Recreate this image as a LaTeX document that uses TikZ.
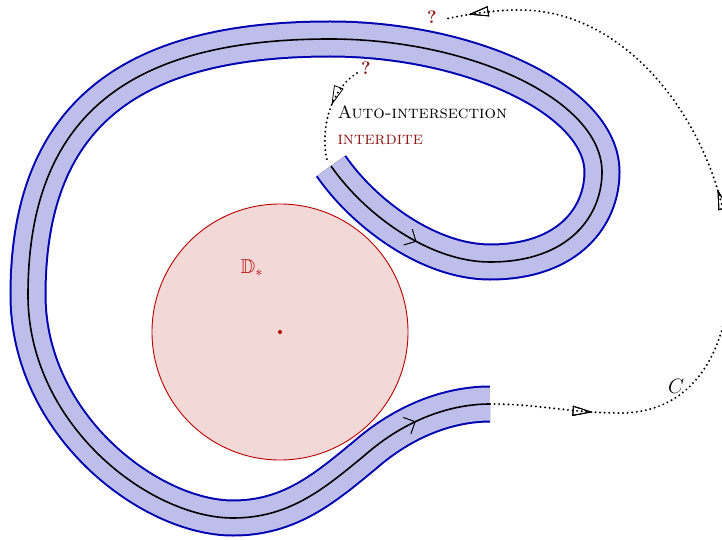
\documentclass[tikz,border=0pt]{standalone}
\usepackage{amsmath,amssymb}
\usetikzlibrary{arrows.meta,decorations.markings}
\definecolor{bandblue}{RGB}{0,0,178}
\definecolor{bandfill}{RGB}{190,190,235}
\definecolor{diskred}{RGB}{185,0,0}
\definecolor{diskfill}{RGB}{243,216,216}
\definecolor{labelred}{RGB}{140,20,20}

\begin{document}
\begin{tikzpicture}[x=1pt,y=-1pt,
  pathdots/.style={line width=2.2pt,line cap=round,dash pattern=on 0pt off 4.6pt},
  flowtip/.style={decoration={markings,mark=at position #1 with {\arrow[line width=0.8pt]{Triangle[open,length=20pt,width=10pt]}}},postaction={decorate}},
  barbtip/.style={decoration={markings,mark=at position #1 with {\arrow{Straight Barb[length=9pt,width=18pt,line width=0.7pt]}}},postaction={decorate}},
  bigfont/.style={font=\fontsize{18}{21}\selectfont}]
  \useasboundingbox (0,0) rectangle (722,540);
  \clip (0,0) rectangle (722,540);
  % disk
  \fill[diskfill,draw=diskred,line width=0.9pt] (280,332) circle (128);
  \fill[diskred] (280,332) circle (2);
  \node[text=diskred,font=\fontsize{20}{22}\selectfont] (dlabel) at (252,268) {$\mathbb{D}_*$};
  % the band
  \coordinate (bandstart) at (331,166);
  \coordinate (bandend) at (490,404);
  \def\bandpath{(bandstart) .. controls (365,215) and (430,262) .. (490,262)
    .. controls (570,262) and (602,215) .. (602,172)
    .. controls (602,100) and (470,39) .. (330,39)
    .. controls (130,39) and (28,115) .. (28,295)
    .. controls (28,425) and (150,518) .. (233,518)
    .. controls (290,518) and (325,488) .. (365,455)
    .. controls (405,420) and (450,404) .. (bandend)}
  \draw[draw=bandblue,line width=2pt,double=bandfill,double distance=33pt,line cap=butt] \bandpath;
  \draw[line width=1.6pt,barbtip=115pt,barbtip=-77pt] \bandpath;
  % the curve C
  \node[text=labelred,font=\fontsize{18}{20}\selectfont\bfseries] (qtop) at (432,17) {?};
  \node[text=labelred,font=\fontsize{18}{20}\selectfont\bfseries] (qlow) at (366,68) {?};
  \coordinate (qtopend) at (445,19);
  \coordinate (qlowend) at (357,73);
  \draw[pathdots,flowtip=103pt,flowtip=415pt,flowtip=-24pt]
    (bandend) .. controls (540,404) and (570,413) .. (620,413)
    .. controls (700,413) and (730,340) .. (730,270)
    .. controls (730,150) and (640,10) .. (520,10)
    .. controls (490,10) and (465,15) .. (qtopend);
  \draw[pathdots,flowtip=42pt]
    (qlowend) .. controls (330,90) and (320,130) .. (327,160);
  \node[font=\fontsize{20}{22}\selectfont] (clabel) at (676,386) {$C$};
  % labels
  \node[bigfont,anchor=west] (autolabel) at (334,112) {\textsc{Auto-intersection}};
  \node[bigfont,anchor=west,text=labelred] (interlabel) at (334,140) {\textsc{interdite}};
\end{tikzpicture}
\end{document}
